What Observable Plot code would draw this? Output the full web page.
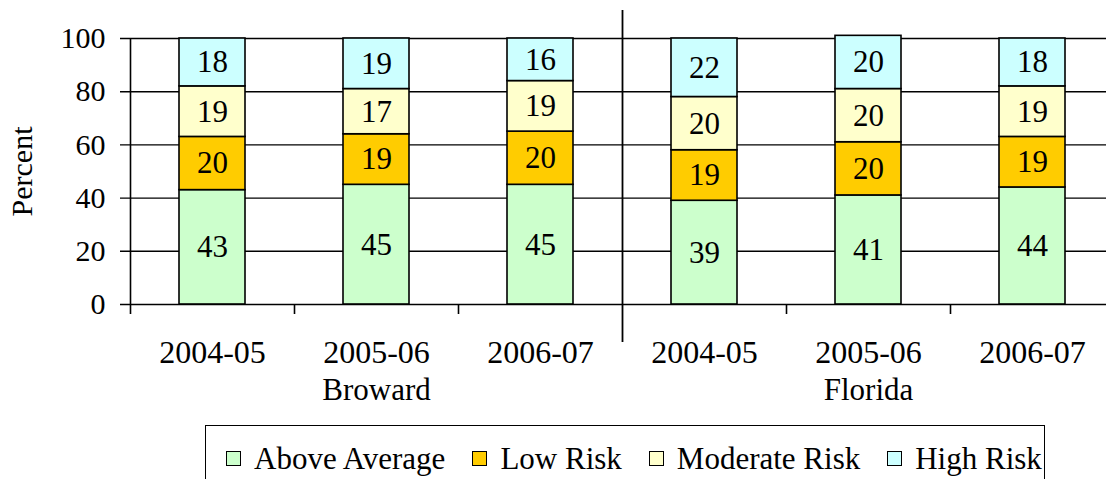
<!DOCTYPE html>
<html><head><meta charset="utf-8">
<script src="https://cdn.jsdelivr.net/npm/d3@7"></script>
<script src="https://cdn.jsdelivr.net/npm/@observablehq/plot@0.6"></script>
<style>
body{margin:0;background:#fff;font-family:"Liberation Serif","Times New Roman",serif;}
#legend{margin:5px 0 0 205px;width:840px;height:60px;box-sizing:border-box;border:1.5px solid #000;display:flex;align-items:center;padding:6px 0 0 20px;font-size:31px;line-height:1;gap:27px;color:#000;}
#legend .item{display:flex;align-items:center;white-space:nowrap;}
#legend .sw{display:inline-block;width:15px;height:15px;border:1.5px solid #000;box-sizing:border-box;margin-right:13px;}
</style></head><body><div id="chart"></div><div id="legend"></div>
<script>
const groups = ["Broward", "Florida"];
const years = ["2004-05", "2005-06", "2006-07"];
const risks = ["Above Average", "Low Risk", "Moderate Risk", "High Risk"];
const colors = ["#CCFFCC", "#FFCC00", "#FFFFCC", "#CCFFFF"];
const aboveAverage = [43, 45, 45, 39, 41, 44];
const lowRisk = [20, 19, 20, 19, 20, 19];
const moderateRisk = [19, 17, 19, 20, 20, 19];
const highRisk = [18, 19, 16, 22, 20, 18];
const yTicks = [0, 20, 40, 60, 80, 100];

const keys = groups.flatMap(g => years.map(y => g + "|" + y));
const series = [aboveAverage, lowRisk, moderateRisk, highRisk];
const data = risks.flatMap((r, i) => keys.map((k, j) => ({key: k, risk: r, value: series[i][j]})));

const W = 1106, H = 420, X0 = 130, X1 = 1114, Y0 = 304, Y1 = 38;
const step = (X1 - X0) / keys.length;

const plot = Plot.plot({
  width: W, height: H,
  marginLeft: 120, marginRight: 0, marginTop: Y1, marginBottom: H - Y0,
  style: {fontFamily: '"Liberation Serif", "Times New Roman", serif', fontSize: "31px", color: "#000", background: "#fff", overflow: "visible"},
  x: {domain: keys, range: [X0, X1], paddingInner: 0.6, paddingOuter: 0.3},
  y: {domain: [0, 100], range: [Y0, Y1]},
  color: {domain: risks, range: colors},
  marks: [
    Plot.ruleY(yTicks, {stroke: "#000", strokeWidth: 1.4}),
    Plot.barY(data, {x: "key", y: "value", fill: "risk", stroke: "#000", strokeWidth: 1.6}),
    Plot.text(data, Plot.stackY({x: "key", y: "value", z: "risk", text: "value", fill: "#000", fontSize: 31})),
    Plot.ruleX([keys[0]], {x: d => d, y1: 100, y2: 0, insetBottom: -10, dx: -step / 2, stroke: "#000", strokeWidth: 1.6}),
    Plot.ruleX([keys[1], keys[2], keys[4], keys[5]], {x: d => d, y1: 0, y2: 0, insetBottom: -10, dx: -step / 2, stroke: "#000", strokeWidth: 1.6}),
    Plot.ruleX([keys[3]], {x: d => d, y1: 100, y2: 0, insetTop: -28, insetBottom: -38, dx: -step / 2, stroke: "#000", strokeWidth: 1.8}),
    Plot.axisY(yTicks, {tickSize: 0, tickPadding: 15, label: null, fontSize: 30}),
    Plot.axisX({tickSize: 0, tickPadding: 36, tickFormat: d => d.split("|")[1], label: null, fontSize: 32}),
    Plot.text(groups, {x: g => g + "|" + years[1], text: d => d, frameAnchor: "bottom", lineAnchor: "middle", textAnchor: "middle", dy: 86, fill: "#000", fontSize: 31}),
    Plot.text(["Percent"], {frameAnchor: "left", text: d => d, rotate: -90, textAnchor: "middle", lineAnchor: "middle", dx: -98, fill: "#000", fontSize: 30})
  ]
});
document.getElementById("chart").appendChild(plot);

const legend = document.getElementById("legend");
risks.forEach((r, i) => {
  const item = document.createElement("span");
  item.className = "item";
  const sw = document.createElement("span");
  sw.className = "sw";
  sw.style.background = colors[i];
  item.appendChild(sw);
  item.appendChild(document.createTextNode(r));
  legend.appendChild(item);
});
</script>
</body></html>
